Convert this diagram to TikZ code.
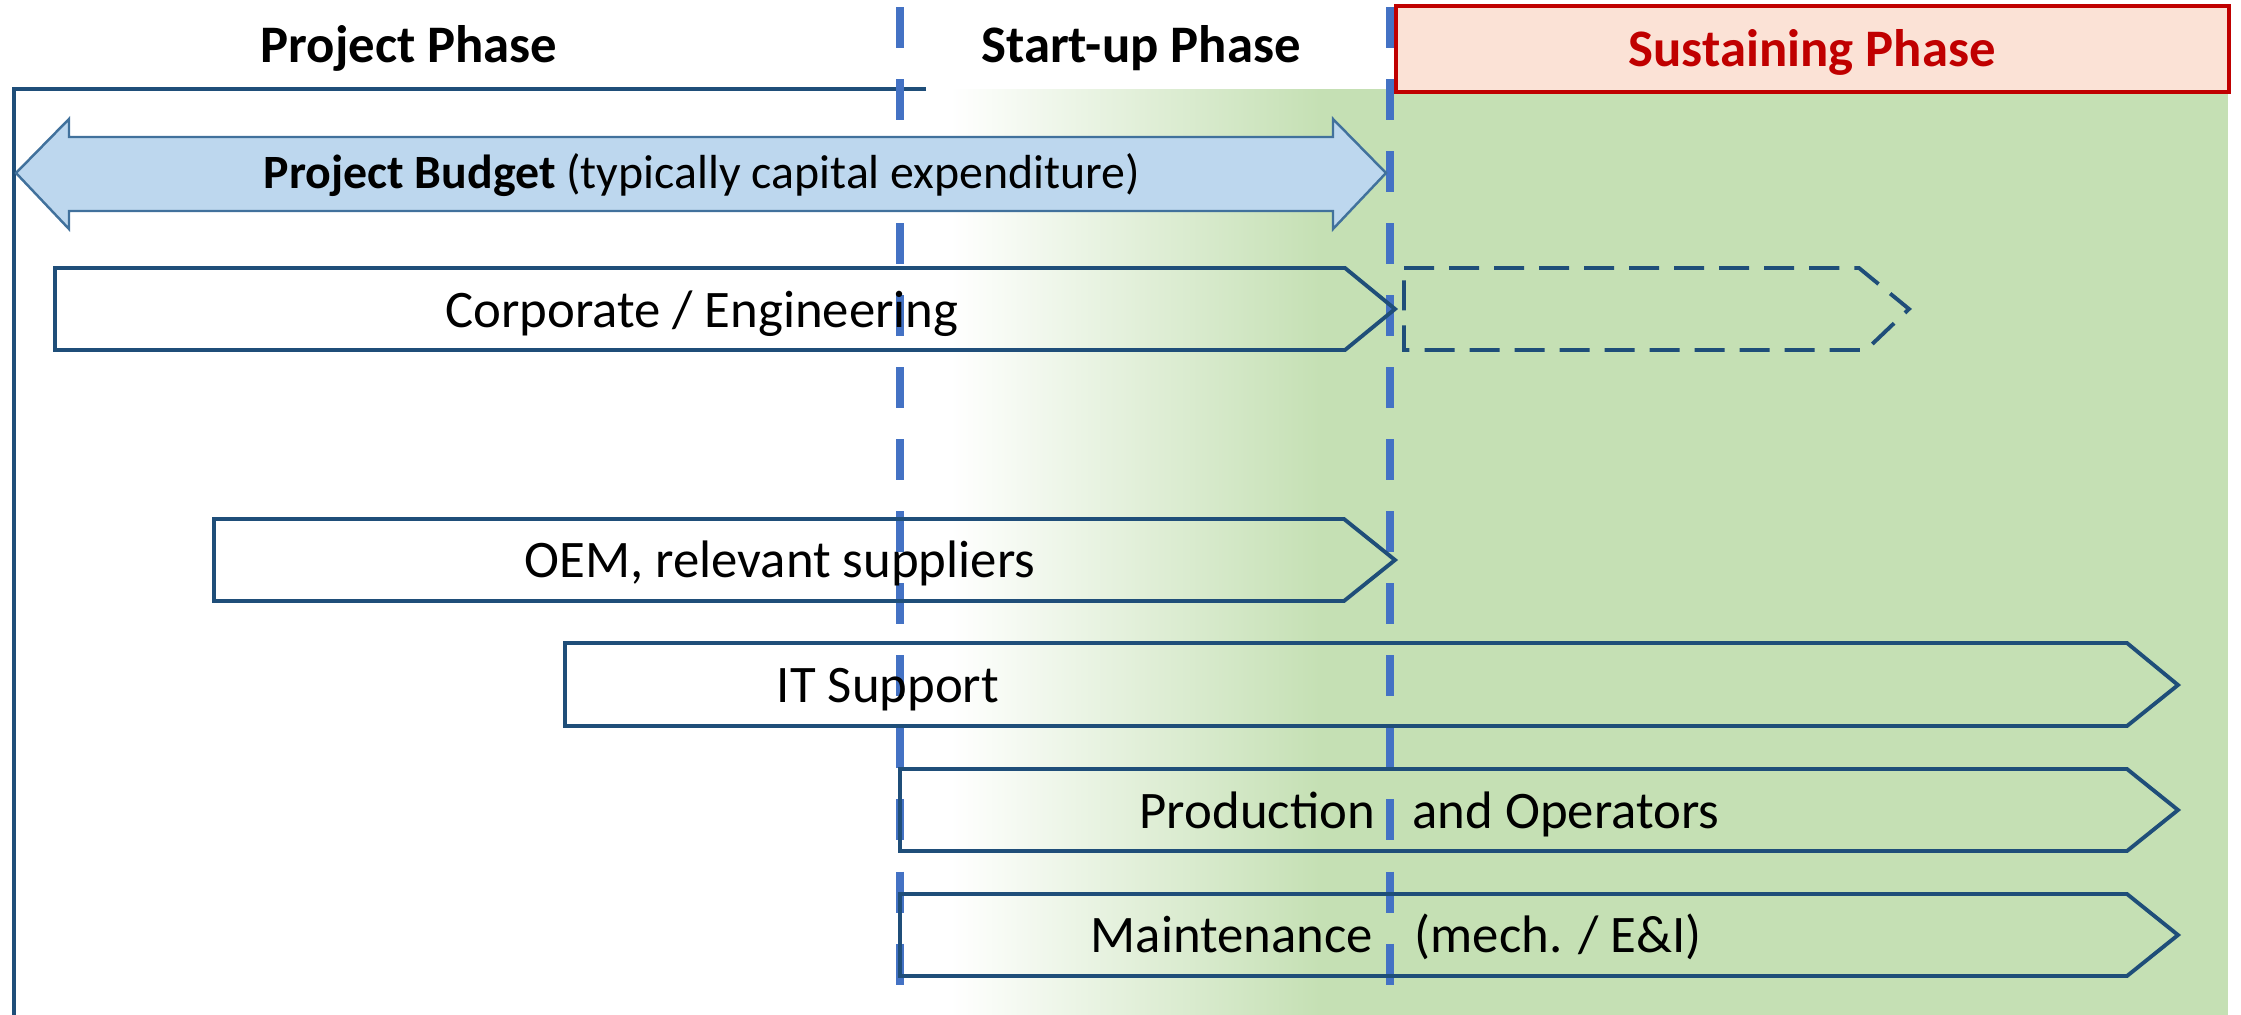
\documentclass[tikz,border=0pt]{standalone}
\usepackage{fontspec}
\setmainfont{Carlito}
\definecolor{dkblue}{RGB}{31,78,121}
\definecolor{dashblue}{RGB}{68,114,196}
\definecolor{budgetfill}{RGB}{189,215,238}
\definecolor{budgetline}{RGB}{65,113,156}
\definecolor{sgreen}{RGB}{197,224,180}
\definecolor{peach}{RGB}{251,226,214}
\definecolor{dred}{RGB}{192,0,0}
\begin{document}
\begin{tikzpicture}[x=0.01cm,y=-0.01cm,
  outline/.style={draw=dkblue,line width=1.1pt,line join=miter},
  dashoutline/.style={draw=dkblue,line width=1.1pt,dash pattern=on 0.3cm off 0.15cm},
  phaseline/.style={draw=dashblue,line width=2.2pt,dash pattern=on 0.41cm off 0.31cm},
  titletext/.style={font=\fontsize{15pt}{18pt}\selectfont\bfseries,inner sep=0pt,anchor=base},
  bodytext/.style={font=\fontsize{15pt}{18pt}\selectfont,inner sep=0pt,anchor=base},
  budgettext/.style={font=\fontsize{13.6pt}{16pt}\selectfont,inner sep=0pt,anchor=base},
]
\useasboundingbox (0,0) rectangle (2241,1015);
% background
\shade[left color=white,right color=sgreen] (950,89) rectangle (1320,1015);
\fill[sgreen] (1319,89) rectangle (2228,1015);
% sustaining box
\draw[draw=dred,fill=peach,line width=1.3pt] (1396,6) rectangle (2229,92);
% titles
\node[titletext] (tproj) at (409,63) {Project Phase};
\node[titletext] (tstart) at (1141,62) {Start-up Phase};
\node[titletext,text=dred] (tsust) at (1812,67) {Sustaining Phase};
% project bracket
\coordinate (brT) at (926,89);
\coordinate (brC) at (14,89);
\coordinate (brB) at (14,1015);
\draw[dkblue,line width=1.1pt] (brT) -- (brC) -- (brB);
% phase dividers
\coordinate (d1t) at (900,7);
\coordinate (d1b) at (900,1015);
\coordinate (d2t) at (1390,7);
\coordinate (d2b) at (1390,1015);
\draw[phaseline] (d1t) -- (d1b);
\draw[phaseline] (d2t) -- (d2b);
% arrows
\draw[outline] (55,268) -- (1345,268) -- (1395,309) -- (1345,350) -- (55,350) -- cycle;
\draw[dashoutline] (1404,268) -- (1859,268) -- (1909,309) -- (1866,350) -- (1404,350) -- cycle;
\draw[outline] (214,519) -- (1344,519) -- (1395,560) -- (1344,601) -- (214,601) -- cycle;
\draw[outline] (565,643) -- (2127,643) -- (2178,685) -- (2127,726) -- (565,726) -- cycle;
\draw[outline] (900,769) -- (2127,769) -- (2178,810) -- (2127,851) -- (900,851) -- cycle;
\draw[outline] (900,894) -- (2127,894) -- (2178,935) -- (2127,976) -- (900,976) -- cycle;
% budget double arrow
\draw[draw=budgetline,fill=budgetfill,line width=0.7pt,line join=miter]
  (16,173) -- (69,119) -- (69,137) -- (1333,137) -- (1333,119) -- (1386,173)
  -- (1333,229) -- (1333,211) -- (69,211) -- (69,229) -- cycle;
% texts
\node[budgettext] (budget) at (702,188) {\textbf{Project Budget} (typically capital expenditure)};
\node[bodytext] (corp) at (702,327) {Corporate / Engineering};
\node[bodytext] (oem) at (780,577) {OEM, relevant suppliers};
\node[bodytext] (it) at (888,702) {IT Support};
\node[bodytext,anchor=base west] (prodA) at (1139,828) {Production};
\node[bodytext,anchor=base west] (prodB) at (1412,828) {and Operators};
\node[bodytext,anchor=base west] (maintA) at (1090,952) {Maintenance};
\node[bodytext,anchor=base west] (maintB) at (1414,952) {(mech. / E\&I)};
\end{tikzpicture}
\end{document}
